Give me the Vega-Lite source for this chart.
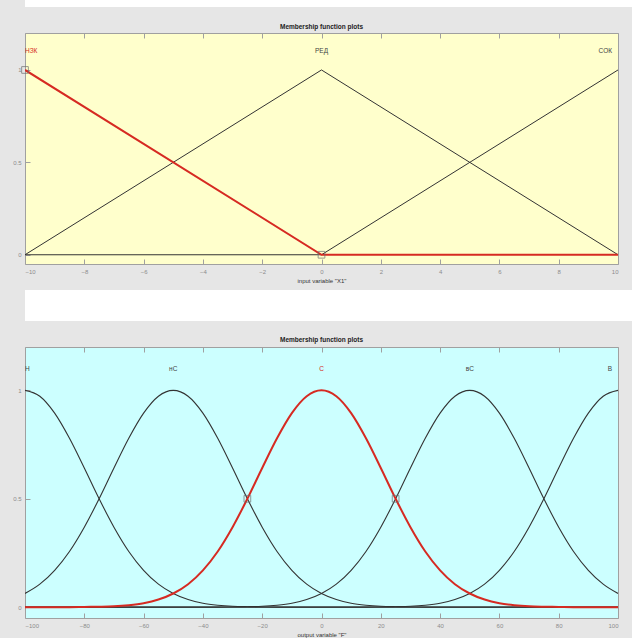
{
  "$schema": "https://vega.github.io/schema/vega-lite/v6.json",
  "background": "#e6e6e6",
  "padding": {"left": 12, "top": 0, "right": 0, "bottom": 0},
  "bounds": "flush",
  "spacing": 26,
  "config": {
    "view": {"stroke": "#a0a0a0", "strokeWidth": 1},
    "font": "Liberation Sans",
    "axis": {"grid": false, "domain": false, "tickColor": "#a0a0a0", "tickSize": -5, "labelColor": "#8c8c8c", "labelFontSize": 6, "labelFont": "Liberation Sans", "titleFont": "Liberation Sans", "titleFontSize": 6, "titleFontWeight": "normal", "titleColor": "#333333", "labelPadding": 9},
    "title": {"fontSize": 6.5, "fontWeight": "bold", "color": "#222222", "anchor": "middle", "font": "Liberation Sans"}
  },
  "datasets": {
    "top": [
      {"mf": "НЗК", "x": -10, "mu": 1}, {"mf": "НЗК", "x": 0, "mu": 0}, {"mf": "НЗК", "x": 10, "mu": 0},
      {"mf": "РЕД", "x": -10, "mu": 0}, {"mf": "РЕД", "x": 0, "mu": 1}, {"mf": "РЕД", "x": 10, "mu": 0},
      {"mf": "СОК", "x": -10, "mu": 0}, {"mf": "СОК", "x": 0, "mu": 0}, {"mf": "СОК", "x": 10, "mu": 1}
    ],
    "topHandles": [{"x": -10, "mu": 1}, {"x": 0, "mu": 0}],
    "bottom": [
      {"mf": "Н", "x": -100, "mu": 1}, {"mf": "Н", "x": -95, "mu": 0.973}, {"mf": "Н", "x": -90, "mu": 0.895}, {"mf": "Н", "x": -85, "mu": 0.779}, {"mf": "Н", "x": -80, "mu": 0.642}, {"mf": "Н", "x": -75, "mu": 0.5}, {"mf": "Н", "x": -70, "mu": 0.369}, {"mf": "Н", "x": -65, "mu": 0.257}, {"mf": "Н", "x": -60, "mu": 0.17}, {"mf": "Н", "x": -55, "mu": 0.106}, {"mf": "Н", "x": -50, "mu": 0.063}, {"mf": "Н", "x": -45, "mu": 0.035}, {"mf": "Н", "x": -40, "mu": 0.018}, {"mf": "Н", "x": -35, "mu": 0.009}, {"mf": "Н", "x": -30, "mu": 0.004}, {"mf": "Н", "x": -25, "mu": 0.002}, {"mf": "Н", "x": -20, "mu": 0.001}, {"mf": "Н", "x": -15, "mu": 0}, {"mf": "Н", "x": 0, "mu": 0}, {"mf": "Н", "x": 50, "mu": 0}, {"mf": "Н", "x": 100, "mu": 0},
      {"mf": "нС", "x": -100, "mu": 0.063}, {"mf": "нС", "x": -95, "mu": 0.106}, {"mf": "нС", "x": -90, "mu": 0.17}, {"mf": "нС", "x": -85, "mu": 0.257}, {"mf": "нС", "x": -80, "mu": 0.369}, {"mf": "нС", "x": -75, "mu": 0.5}, {"mf": "нС", "x": -70, "mu": 0.642}, {"mf": "нС", "x": -65, "mu": 0.779}, {"mf": "нС", "x": -60, "mu": 0.895}, {"mf": "нС", "x": -55, "mu": 0.973}, {"mf": "нС", "x": -50, "mu": 1}, {"mf": "нС", "x": -45, "mu": 0.973}, {"mf": "нС", "x": -40, "mu": 0.895}, {"mf": "нС", "x": -35, "mu": 0.779}, {"mf": "нС", "x": -30, "mu": 0.642}, {"mf": "нС", "x": -25, "mu": 0.5}, {"mf": "нС", "x": -20, "mu": 0.369}, {"mf": "нС", "x": -15, "mu": 0.257}, {"mf": "нС", "x": -10, "mu": 0.17}, {"mf": "нС", "x": -5, "mu": 0.106}, {"mf": "нС", "x": 0, "mu": 0.063}, {"mf": "нС", "x": 5, "mu": 0.035}, {"mf": "нС", "x": 10, "mu": 0.018}, {"mf": "нС", "x": 15, "mu": 0.009}, {"mf": "нС", "x": 20, "mu": 0.004}, {"mf": "нС", "x": 25, "mu": 0.002}, {"mf": "нС", "x": 30, "mu": 0.001}, {"mf": "нС", "x": 35, "mu": 0}, {"mf": "нС", "x": 70, "mu": 0}, {"mf": "нС", "x": 100, "mu": 0},
      {"mf": "вС", "x": -100, "mu": 0}, {"mf": "вС", "x": -70, "mu": 0}, {"mf": "вС", "x": -35, "mu": 0}, {"mf": "вС", "x": -30, "mu": 0.001}, {"mf": "вС", "x": -25, "mu": 0.002}, {"mf": "вС", "x": -20, "mu": 0.004}, {"mf": "вС", "x": -15, "mu": 0.009}, {"mf": "вС", "x": -10, "mu": 0.018}, {"mf": "вС", "x": -5, "mu": 0.035}, {"mf": "вС", "x": 0, "mu": 0.063}, {"mf": "вС", "x": 5, "mu": 0.106}, {"mf": "вС", "x": 10, "mu": 0.17}, {"mf": "вС", "x": 15, "mu": 0.257}, {"mf": "вС", "x": 20, "mu": 0.369}, {"mf": "вС", "x": 25, "mu": 0.5}, {"mf": "вС", "x": 30, "mu": 0.642}, {"mf": "вС", "x": 35, "mu": 0.779}, {"mf": "вС", "x": 40, "mu": 0.895}, {"mf": "вС", "x": 45, "mu": 0.973}, {"mf": "вС", "x": 50, "mu": 1}, {"mf": "вС", "x": 55, "mu": 0.973}, {"mf": "вС", "x": 60, "mu": 0.895}, {"mf": "вС", "x": 65, "mu": 0.779}, {"mf": "вС", "x": 70, "mu": 0.642}, {"mf": "вС", "x": 75, "mu": 0.5}, {"mf": "вС", "x": 80, "mu": 0.369}, {"mf": "вС", "x": 85, "mu": 0.257}, {"mf": "вС", "x": 90, "mu": 0.17}, {"mf": "вС", "x": 95, "mu": 0.106}, {"mf": "вС", "x": 100, "mu": 0.063},
      {"mf": "В", "x": -100, "mu": 0}, {"mf": "В", "x": -50, "mu": 0}, {"mf": "В", "x": 0, "mu": 0}, {"mf": "В", "x": 15, "mu": 0}, {"mf": "В", "x": 20, "mu": 0.001}, {"mf": "В", "x": 25, "mu": 0.002}, {"mf": "В", "x": 30, "mu": 0.004}, {"mf": "В", "x": 35, "mu": 0.009}, {"mf": "В", "x": 40, "mu": 0.018}, {"mf": "В", "x": 45, "mu": 0.035}, {"mf": "В", "x": 50, "mu": 0.063}, {"mf": "В", "x": 55, "mu": 0.106}, {"mf": "В", "x": 60, "mu": 0.17}, {"mf": "В", "x": 65, "mu": 0.257}, {"mf": "В", "x": 70, "mu": 0.369}, {"mf": "В", "x": 75, "mu": 0.5}, {"mf": "В", "x": 80, "mu": 0.642}, {"mf": "В", "x": 85, "mu": 0.779}, {"mf": "В", "x": 90, "mu": 0.895}, {"mf": "В", "x": 95, "mu": 0.973}, {"mf": "В", "x": 100, "mu": 1},
      {"mf": "С", "x": -100, "mu": 0}, {"mf": "С", "x": -85, "mu": 0}, {"mf": "С", "x": -80, "mu": 0.001}, {"mf": "С", "x": -75, "mu": 0.002}, {"mf": "С", "x": -70, "mu": 0.004}, {"mf": "С", "x": -65, "mu": 0.009}, {"mf": "С", "x": -60, "mu": 0.018}, {"mf": "С", "x": -55, "mu": 0.035}, {"mf": "С", "x": -50, "mu": 0.063}, {"mf": "С", "x": -45, "mu": 0.106}, {"mf": "С", "x": -40, "mu": 0.17}, {"mf": "С", "x": -35, "mu": 0.257}, {"mf": "С", "x": -30, "mu": 0.369}, {"mf": "С", "x": -25, "mu": 0.5}, {"mf": "С", "x": -20, "mu": 0.642}, {"mf": "С", "x": -15, "mu": 0.779}, {"mf": "С", "x": -10, "mu": 0.895}, {"mf": "С", "x": -5, "mu": 0.973}, {"mf": "С", "x": 0, "mu": 1}, {"mf": "С", "x": 5, "mu": 0.973}, {"mf": "С", "x": 10, "mu": 0.895}, {"mf": "С", "x": 15, "mu": 0.779}, {"mf": "С", "x": 20, "mu": 0.642}, {"mf": "С", "x": 25, "mu": 0.5}, {"mf": "С", "x": 30, "mu": 0.369}, {"mf": "С", "x": 35, "mu": 0.257}, {"mf": "С", "x": 40, "mu": 0.17}, {"mf": "С", "x": 45, "mu": 0.106}, {"mf": "С", "x": 50, "mu": 0.063}, {"mf": "С", "x": 55, "mu": 0.035}, {"mf": "С", "x": 60, "mu": 0.018}, {"mf": "С", "x": 65, "mu": 0.009}, {"mf": "С", "x": 70, "mu": 0.004}, {"mf": "С", "x": 75, "mu": 0.002}, {"mf": "С", "x": 80, "mu": 0.001}, {"mf": "С", "x": 85, "mu": 0}, {"mf": "С", "x": 100, "mu": 0}
    ],
    "bottomHandles": [{"x": -25, "mu": 0.5}, {"x": 25, "mu": 0.5}]
  },
  "vconcat": [
    {
      "width": 607, "height": 7,
      "view": {"fill": "white", "stroke": null},
      "data": {"values": []},
      "mark": "point",
      "encoding": {}
    },
    {
      "width": 593, "height": 231,
      "title": {"text": "Membership function plots", "offset": 2},
      "view": {"fill": "#ffffcc"},
      "data": {"name": "top"},
      "resolve": {"scale": {"x": "independent"}},
      "layer": [
        {
          "layer": [
            {
              "transform": [{"filter": "datum.mf != 'НЗК'"}],
              "mark": {"type": "line", "color": "#333333", "strokeWidth": 1, "clip": true},
              "encoding": {
                "x": {"field": "x", "type": "quantitative", "scale": {"domain": [-10, 10], "nice": false, "zero": false},
                      "axis": {"orient": "bottom", "values": [-10, -8, -6, -4, -2, 0, 2, 4, 6, 8, 10], "title": "input variable \"X1\"", "titlePadding": 3}},
                "y": {"field": "mu", "type": "quantitative", "scale": {"domain": [-0.05, 1.2], "nice": false, "zero": false},
                      "axis": {"values": [0, 0.5, 1], "format": "~g", "title": null}},
                "detail": {"field": "mf"}
              }
            },
            {
              "transform": [{"filter": "datum.mf == 'НЗК'"}],
              "mark": {"type": "line", "color": "#d62a22", "strokeWidth": 2, "clip": true},
              "encoding": {
                "x": {"field": "x", "type": "quantitative"},
                "y": {"field": "mu", "type": "quantitative"}
              }
            },
            {
              "data": {"name": "topHandles"},
              "mark": {"type": "square", "filled": false, "color": "#6e6e6e", "size": 45, "strokeWidth": 1},
              "encoding": {
                "x": {"field": "x", "type": "quantitative"},
                "y": {"field": "mu", "type": "quantitative"}
              }
            },
            {
              "transform": [{"filter": "datum.mu == 1 && datum.x == -10"}],
              "mark": {"type": "text", "align": "left", "fontSize": 6.5, "baseline": "middle"},
              "encoding": {
                "x": {"field": "x", "type": "quantitative"},
                "y": {"datum": 1.1},
                "text": {"field": "mf"},
                "color": {"value": "#d62a22"}
              }
            },
            {
              "transform": [{"filter": "datum.mu == 1 && datum.x == 0"}],
              "mark": {"type": "text", "align": "center", "fontSize": 6.5, "baseline": "middle"},
              "encoding": {
                "x": {"field": "x", "type": "quantitative"},
                "y": {"datum": 1.1},
                "text": {"field": "mf"},
                "color": {"value": "#444444"}
              }
            },
            {
              "transform": [{"filter": "datum.mu == 1 && datum.x == 10"}],
              "mark": {"type": "text", "align": "right", "fontSize": 6.5, "baseline": "middle", "dx": -6},
              "encoding": {
                "x": {"field": "x", "type": "quantitative"},
                "y": {"datum": 1.1},
                "text": {"field": "mf"},
                "color": {"value": "#444444"}
              }
            }
          ]
        },
        {
          "mark": {"type": "rule", "opacity": 0},
          "encoding": {
            "x": {"field": "x", "type": "quantitative", "scale": {"domain": [-10, 10], "nice": false, "zero": false},
                  "axis": {"orient": "top", "values": [-10, -8, -6, -4, -2, 0, 2, 4, 6, 8, 10], "labels": false, "title": null}}
          }
        }
      ]
    },
    {
      "width": 607, "height": 31,
      "view": {"fill": "white", "stroke": null},
      "data": {"values": []},
      "mark": "point",
      "encoding": {}
    },
    {
      "width": 593, "height": 271,
      "title": {"text": "Membership function plots", "offset": 3},
      "view": {"fill": "#ccffff"},
      "data": {"name": "bottom"},
      "resolve": {"scale": {"x": "independent"}},
      "layer": [
        {
          "layer": [
            {
              "transform": [{"filter": "datum.mf != 'С'"}],
              "mark": {"type": "line", "color": "#333333", "strokeWidth": 1.1, "interpolate": "monotone", "clip": true},
              "encoding": {
                "x": {"field": "x", "type": "quantitative", "scale": {"domain": [-100, 100], "nice": false, "zero": false},
                      "axis": {"orient": "bottom", "values": [-100, -80, -60, -40, -20, 0, 20, 40, 60, 80, 100], "title": "output variable \"F\"", "titlePadding": 3}},
                "y": {"field": "mu", "type": "quantitative", "scale": {"domain": [-0.05, 1.2], "nice": false, "zero": false},
                      "axis": {"values": [0, 0.5, 1], "format": "~g", "title": null}},
                "detail": {"field": "mf"}
              }
            },
            {
              "transform": [{"filter": "datum.mf == 'С'"}],
              "mark": {"type": "line", "color": "#d62a22", "strokeWidth": 2, "interpolate": "monotone", "clip": true},
              "encoding": {
                "x": {"field": "x", "type": "quantitative"},
                "y": {"field": "mu", "type": "quantitative"}
              }
            },
            {
              "data": {"name": "bottomHandles"},
              "mark": {"type": "square", "filled": false, "color": "#6e6e6e", "size": 45, "strokeWidth": 1},
              "encoding": {
                "x": {"field": "x", "type": "quantitative"},
                "y": {"field": "mu", "type": "quantitative"}
              }
            },
            {
              "transform": [{"filter": "datum.mu == 1 && datum.x == -100"}],
              "mark": {"type": "text", "align": "left", "fontSize": 6.5, "baseline": "middle"},
              "encoding": {
                "x": {"field": "x", "type": "quantitative"},
                "y": {"datum": 1.1},
                "text": {"field": "mf"},
                "color": {"value": "#444444"}
              }
            },
            {
              "transform": [{"filter": "datum.mu == 1 && datum.x > -100 && datum.x < 100"}],
              "mark": {"type": "text", "align": "center", "fontSize": 6.5, "baseline": "middle"},
              "encoding": {
                "x": {"field": "x", "type": "quantitative"},
                "y": {"datum": 1.1},
                "text": {"field": "mf"},
                "color": {"condition": {"test": "datum.mf == 'С'", "value": "#d62a22"}, "value": "#444444"}
              }
            },
            {
              "transform": [{"filter": "datum.mu == 1 && datum.x == 100"}],
              "mark": {"type": "text", "align": "right", "fontSize": 6.5, "baseline": "middle", "dx": -6},
              "encoding": {
                "x": {"field": "x", "type": "quantitative"},
                "y": {"datum": 1.1},
                "text": {"field": "mf"},
                "color": {"value": "#444444"}
              }
            }
          ]
        },
        {
          "mark": {"type": "rule", "opacity": 0},
          "encoding": {
            "x": {"field": "x", "type": "quantitative", "scale": {"domain": [-100, 100], "nice": false, "zero": false},
                  "axis": {"orient": "top", "values": [-100, -80, -60, -40, -20, 0, 20, 40, 60, 80, 100], "labels": false, "title": null}}
          }
        }
      ]
    }
  ]
}
